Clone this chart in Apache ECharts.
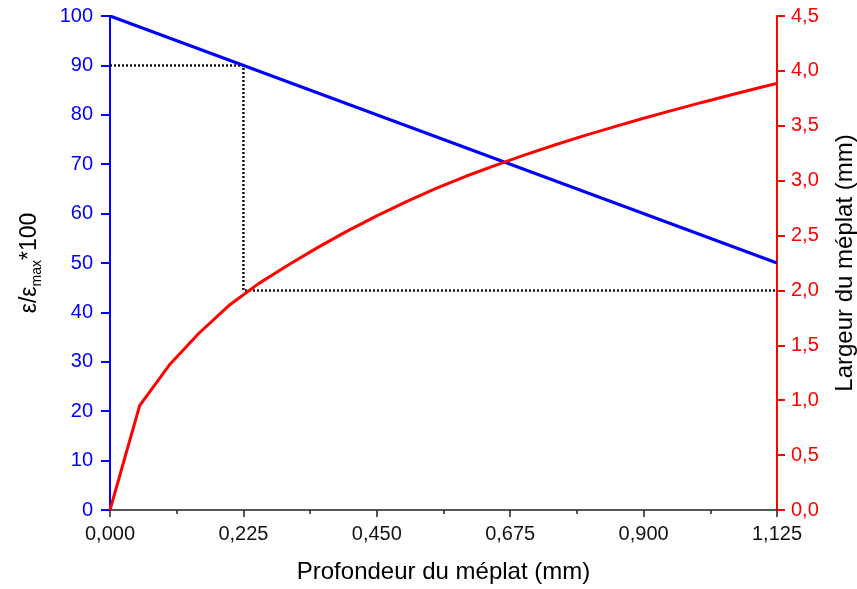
<!DOCTYPE html>
<html>
<head>
<meta charset="utf-8">
<script src="https://cdn.jsdelivr.net/npm/echarts@6/dist/echarts.min.js"></script>
<style>html,body{margin:0;padding:0;background:#fff}#c{width:857px;height:589px}</style>
</head>
<body>
<div id="c"></div>
<script>
// Depth of the flat (mm)
const depthX = [0, 0.05, 0.10, 0.15, 0.20, 0.25, 0.30, 0.35, 0.40, 0.45, 0.50, 0.55, 0.60, 0.65, 0.70, 0.75, 0.80, 0.85, 0.90, 0.95, 1.00, 1.05, 1.10, 1.125];
// Width of the flat (mm) - right axis
const widthY = [0, 0.95, 1.32, 1.61, 1.86, 2.06, 2.23, 2.39, 2.54, 2.68, 2.81, 2.93, 3.04, 3.14, 3.235, 3.325, 3.41, 3.49, 3.568, 3.643, 3.715, 3.785, 3.853, 3.886];
// eps/eps_max*100 - left axis
const strainX = [0, 1.125];
const strainY = [100, 50];
// dotted guide (right-axis units)
const guideX = [0, 0.225, 0.225, 1.125];
const guideY = [4.05, 4.05, 2.0, 2.0];

const font = 'Liberation Sans, Arial, sans-serif';
const chart = echarts.init(document.getElementById('c'), null, {renderer: 'canvas'});
chart.setOption({
  animation: false,
  backgroundColor: '#fff',
  grid: {left: 110, right: 80, top: 16, bottom: 79, containLabel: false, outerBoundsMode: 'none'},
  xAxis: {
    type: 'value', min: 0, max: 1.125, interval: 0.225,
    name: 'Profondeur du méplat (mm)', nameLocation: 'middle', nameGap: 50,
    nameTextStyle: {color: '#000', fontSize: 24, fontFamily: font},
    axisLine: {show: true, onZero: false, lineStyle: {color: '#222', width: 1.5}},
    axisTick: {show: true, inside: false, length: 7, lineStyle: {color: '#222', width: 1.5}},
    minorTick: {show: true, splitNumber: 2, length: 4, lineStyle: {color: '#222', width: 1.5}},
    splitLine: {show: false},
    axisLabel: {color: '#111', fontSize: 20, fontFamily: font, margin: 14,
      formatter: v => v.toFixed(3).replace('.', ',')}
  },
  yAxis: [{
    type: 'value', min: 0, max: 100, interval: 10, position: 'left',
    name: '{a|ε/ε}{s|max}{a|*100}', nameLocation: 'middle', nameGap: 66, nameRotate: 90,
    nameTextStyle: {rich: {
      a: {color: '#000', fontSize: 23, fontFamily: font, verticalAlign: 'top'},
      s: {color: '#000', fontSize: 14, fontFamily: font, padding: [12, 0, 0, 0], verticalAlign: 'bottom'}
    }},
    axisLine: {show: true, onZero: false, lineStyle: {color: '#0000ff', width: 2}},
    axisTick: {show: true, inside: false, length: 9, lineStyle: {color: '#0000ff', width: 2}},
    splitLine: {show: false},
    axisLabel: {color: '#0000ff', fontSize: 20, fontFamily: font, margin: 17}
  }, {
    type: 'value', min: 0, max: 4.5, interval: 0.5, position: 'right',
    name: 'Largeur du méplat (mm)', nameLocation: 'middle', nameGap: 56, nameRotate: 90,
    nameTextStyle: {color: '#000', fontSize: 24, fontFamily: font},
    axisLine: {show: true, onZero: false, lineStyle: {color: '#ff0000', width: 2}},
    axisTick: {show: true, inside: false, length: 8, lineStyle: {color: '#ff0000', width: 2}},
    splitLine: {show: false},
    axisLabel: {color: '#ff0000', fontSize: 20, fontFamily: font, margin: 14,
      formatter: v => v.toFixed(1).replace('.', ',')}
  }],
  series: [{
    type: 'line', yAxisIndex: 0, symbol: 'none', z: 3,
    data: strainX.map((x, i) => [x, strainY[i]]),
    lineStyle: {color: '#0000ff', width: 3}
  }, {
    type: 'line', yAxisIndex: 1, symbol: 'none', z: 3,
    data: depthX.map((x, i) => [x, widthY[i]]),
    lineStyle: {color: '#ff0000', width: 3}
  }, {
    type: 'line', yAxisIndex: 1, symbol: 'none', z: 2,
    data: guideX.map((x, i) => [x, guideY[i]]),
    lineStyle: {color: '#111', width: 2.5, type: [2, 2]}
  }]
});
</script>
</body>
</html>
